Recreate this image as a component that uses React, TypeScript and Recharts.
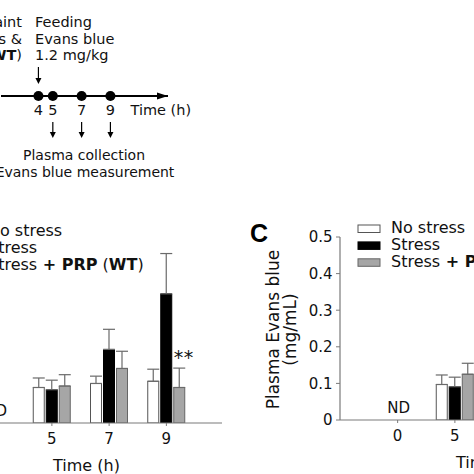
import React from 'react';
import {
  Bar,
  BarChart,
  ErrorBar,
  LabelList,
  Legend,
  ReferenceDot,
  Scatter,
  ScatterChart,
  XAxis,
  YAxis,
} from 'recharts';

// plasma Evans blue (mg/mL), mean and upper SD, per collection time
const categories = ['0', '5', '7', '9'];
const noStress = [0, 0.097, 0.108, 0.114];
const noStressSd = [null, 0.026, 0.02, 0.033];
const stress = [0, 0.091, 0.201, 0.353];
const stressSd = [null, 0.026, 0.055, 0.11];
const prpWt = [0, 0.101, 0.149, 0.097];
const prpWtSd = [null, 0.031, 0.047, 0.053];
const prpC = [0, 0.125, null, null];
const prpCSd = [null, 0.03, null, null];
const notes = ['ND', '', '', ''];
const sigWt = ['', '', '', '**'];
const sigC = ['', '', '', ''];
const yTicks = [0, 0.1, 0.2, 0.3, 0.4, 0.5];

// protocol timeline (h)
const timelineHours = [4, 5, 7, 9];
const collectionHours = [5, 7, 9];
const feedingHour = 4;

const FONT = "'DejaVu Sans', sans-serif";
const AXIS = '#7a7a7a';
const ERR = '#6a6a6a';
const GRAY = '#a6a6a6';

type Seg = { text: string; bold?: boolean };

const legendWt: Seg[][] = [
  [{ text: 'No stress' }],
  [{ text: 'Stress' }],
  [{ text: 'Stress' }, { text: ' + PRP', bold: true }, { text: ' (' }, { text: 'WT', bold: true }, { text: ')' }],
];
const legendC: Seg[][] = [
  [{ text: 'No stress' }],
  [{ text: 'Stress' }],
  [{ text: 'Stress' }, { text: ' + PRP', bold: true }],
];

const boxStyles = [
  { fill: '#fff', stroke: '#555' },
  { fill: '#000', stroke: '#000' },
  { fill: GRAY, stroke: '#666' },
];

function PanelLegend({ rows }: { rows: Seg[][] }) {
  return (
    <svg width={370} height={50} style={{ display: 'block', overflow: 'visible' }}>
      {rows.map((row, i) => {
        const base = 6 + i * 16.9;
        return (
          <g key={i}>
            <rect x={98} y={base - 8} width={22} height={7.5} {...boxStyles[i]} strokeWidth={1} />
            <text x={131} y={base} fontSize={16} fill="#111" fontFamily={FONT}>
              {row.map((s, j) => (
                <tspan key={j} fontWeight={s.bold ? 'bold' : 'normal'}>
                  {s.text}
                </tspan>
              ))}
            </text>
          </g>
        );
      })}
    </svg>
  );
}

function YLabel(props: any) {
  const { x, y, width, height } = props.viewBox;
  const cy = y + height / 2 + 1;
  const x1 = x + width - 61.5;
  const x2 = x + width - 44;
  return (
    <g fontFamily={FONT} fontSize={17} fill="#111">
      <text x={x1} y={cy} textAnchor="middle" transform={`rotate(-90 ${x1} ${cy})`}>
        Plasma Evans blue
      </text>
      <text x={x2} y={cy} textAnchor="middle" transform={`rotate(-90 ${x2} ${cy})`}>
        (mg/mL)
      </text>
    </g>
  );
}

function XLabel(props: any) {
  const { x, y } = props.viewBox;
  return (
    <text x={x + 116} y={y + 48} fontSize={16} fill="#111" fontFamily={FONT}>
      Time (h)
    </text>
  );
}

// category tick, with the "not detected" note drawn above the axis
function BarTick(props: any) {
  const { x, y, payload, index } = props;
  const note = notes[categories.indexOf(String(payload.value))] ?? notes[index];
  return (
    <g fontFamily={FONT} fill="#111">
      <text x={x} y={y} dy={16} textAnchor="middle" fontSize={15}>
        {payload.value}
      </text>
      {note ? (
        <text x={x + 1} y={y - 12} textAnchor="middle" fontSize={15}>
          {note}
        </text>
      ) : null}
    </g>
  );
}

function SigLabel(props: any) {
  const { x, y, width, value } = props;
  if (!value) return null;
  return (
    <text x={Number(x) + Number(width) / 2 + 4.5} y={Number(y) - 23} textAnchor="middle" fontSize={19} fill="#111" fontFamily={FONT} letterSpacing={0.5}>
      {value}
    </text>
  );
}

interface PanelProps {
  prp: (number | null)[];
  prpSd: (number | null)[];
  sig: string[];
  legend: Seg[][];
  left: number;
  top: number;
}

function Panel({ prp, prpSd, sig, legend, left, top }: PanelProps) {
  const data = categories.map((cat, i) => ({
    cat,
    noStress: noStress[i],
    noStressErr: noStressSd[i] == null ? null : [0, noStressSd[i]],
    stress: stress[i],
    stressErr: stressSd[i] == null ? null : [0, stressSd[i]],
    prp: prp[i],
    prpErr: prpSd[i] == null ? null : [0, prpSd[i]],
    sig: sig[i],
  }));
  return (
    <div style={{ position: 'absolute', left, top }}>
      <BarChart
        width={365}
        height={249}
        data={data}
        margin={{ top: 10, right: 0, bottom: 0, left: 0 }}
        barSize={11}
        barGap={2}
      >
        <XAxis
          dataKey="cat"
          height={56}
          padding={{ left: 29, right: 27 }}
          axisLine={{ stroke: AXIS, strokeWidth: 1.2 }}
          tickLine={{ stroke: AXIS }}
          tickSize={3}
          tickMargin={2}
          tick={<BarTick />}
          label={{ content: XLabel }}
        />
        <YAxis
          width={80}
          domain={[0, 0.5]}
          ticks={yTicks}
          allowDataOverflow
          axisLine={{ stroke: AXIS, strokeWidth: 1.2 }}
          tickLine={{ stroke: AXIS }}
          tickSize={4}
          tickMargin={3.5}
          tick={{ fontSize: 15, fill: '#111', fontFamily: FONT }}
          tickFormatter={(v: number) => (v === 0 ? '0' : v.toFixed(1))}
          label={{ content: YLabel }}
        />
        <Legend
          layout="vertical"
          align="center"
          verticalAlign="middle"
          wrapperStyle={{ left: 0, top: 0, width: 365 }}
          content={() => <PanelLegend rows={legend} />}
        />
        <Bar dataKey="noStress" fill="#fff" stroke="#555" strokeWidth={1} isAnimationActive={false}>
          <ErrorBar dataKey="noStressErr" width={6} stroke={ERR} strokeWidth={1.2} direction="y" />
        </Bar>
        <Bar dataKey="stress" fill="#000" stroke="#000" strokeWidth={1} isAnimationActive={false}>
          <ErrorBar dataKey="stressErr" width={6} stroke={ERR} strokeWidth={1.2} direction="y" />
        </Bar>
        <Bar dataKey="prp" fill={GRAY} stroke="#666" strokeWidth={1} isAnimationActive={false}>
          <ErrorBar dataKey="prpErr" width={6} stroke={ERR} strokeWidth={1.2} direction="y" />
          <LabelList dataKey="sig" content={SigLabel} />
        </Bar>
      </BarChart>
    </div>
  );
}

function TimelineDot(props: any) {
  return <circle cx={props.cx} cy={props.cy} r={5} fill="#000" />;
}

function FeedArrow(props: any) {
  const { cx, cy } = props;
  return (
    <g>
      <line x1={cx} y1={cy - 29} x2={cx} y2={cy - 16} stroke="#000" strokeWidth={1.2} />
      <path d={`M${cx - 3},${cy - 18} L${cx + 3},${cy - 18} L${cx},${cy - 12} Z`} fill="#000" />
    </g>
  );
}

function AxisArrowHead(props: any) {
  const { cx, cy } = props;
  return <path d={`M${cx - 11},${cy - 3.5} L${cx},${cy} L${cx - 11},${cy + 3.5} Z`} fill="#000" />;
}

function TimelineTick(props: any) {
  const { x, y, payload } = props;
  const collect = collectionHours.includes(payload.value);
  return (
    <g>
      <text x={x} y={y} dy={19.3} textAnchor="middle" fontSize={14.5} fill="#111" fontFamily={FONT}>
        {payload.value}
      </text>
      {collect && (
        <g>
          <line x1={x} y1={y + 26} x2={x} y2={y + 37} stroke="#000" strokeWidth={1.2} />
          <path d={`M${x - 3},${y + 36} L${x + 3},${y + 36} L${x},${y + 42} Z`} fill="#000" />
        </g>
      )}
    </g>
  );
}

function TimelineLabel(props: any) {
  const { x, width, y } = props.viewBox;
  return (
    <text x={x + width - 37.5} y={y + 19.3} fontSize={14.5} fill="#111" fontFamily={FONT}>
      Time (h)
    </text>
  );
}

function Timeline() {
  const pts = timelineHours.map((t) => ({ t, y: 0 }));
  return (
    <div style={{ position: 'absolute', left: 0.6, top: 0 }}>
      <ScatterChart width={237} height={174} margin={{ top: 0, right: 70, bottom: 0, left: 0 }}>
        <XAxis
          type="number"
          dataKey="t"
          domain={[1.4, 13]}
          allowDataOverflow
          height={78}
          ticks={timelineHours}
          interval={0}
          axisLine={{ stroke: '#000', strokeWidth: 2 }}
          tickLine={false}
          tickSize={0}
          tickMargin={0}
          tick={<TimelineTick />}
          label={{ content: TimelineLabel }}
        />
        <YAxis type="number" dataKey="y" domain={[0, 1]} hide />
        <ReferenceDot x={13} y={0} r={0} shape={AxisArrowHead} ifOverflow="visible" />
        <ReferenceDot x={feedingHour} y={0} r={0} shape={FeedArrow} ifOverflow="visible" />
        <Scatter data={pts} shape={TimelineDot} isAnimationActive={false} />
      </ScatterChart>
    </div>
  );
}

export default function App() {
  return (
    <div
      style={{
        position: 'fixed',
        left: 0,
        top: 0,
        width: 474,
        height: 474,
        overflow: 'hidden',
        background: '#fff',
        fontFamily: FONT,
      }}
    >
      <Timeline />
      <Panel prp={prpWt} prpSd={prpWtSd} sig={sigWt} legend={legendWt} left={-143} top={229.5} />
      <Panel prp={prpC} prpSd={prpCSd} sig={sigC} legend={legendC} left={259.5} top={227} />
      <svg width={474} height={474} style={{ position: 'absolute', left: 0, top: 0, pointerEvents: 'none' }}>
        <g fontSize={14.5} fill="#111" fontFamily={FONT}>
          <text x={22} y={27} textAnchor="end">Restraint</text>
          <text x={22} y={43.5} textAnchor="end">stress &amp;</text>
          <text x={22} y={60} textAnchor="end">
            <tspan fontWeight="bold">PRP</tspan> (<tspan fontWeight="bold">WT</tspan>)
          </text>
          <text x={35} y={27}>Feeding</text>
          <text x={35} y={43.5}>Evans blue</text>
          <text x={35} y={60}>1.2 mg/kg</text>
        </g>
        <g fontSize={14} fill="#111" fontFamily={FONT}>
          <text x={84} y={160} textAnchor="middle">Plasma collection</text>
          <text x={85} y={176.5} textAnchor="middle">Evans blue measurement</text>
        </g>
        <text x={250} y={242} fontSize={25} fontWeight="bold" fill="#000" fontFamily="'Liberation Sans', Arial, sans-serif">
          C
        </text>
      </svg>
    </div>
  );
}
